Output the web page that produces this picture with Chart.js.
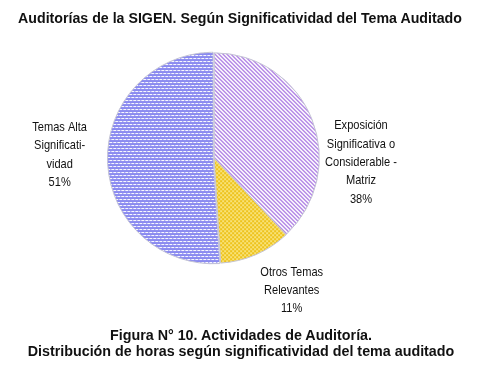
<!DOCTYPE html>
<html>
<head>
<meta charset="utf-8">
<script src="https://cdn.jsdelivr.net/npm/chart.js@4/dist/chart.umd.min.js"></script>
<style>
  html,body{margin:0;padding:0;background:#fff;}
  #wrap{width:484px;height:382px;position:relative;overflow:hidden;}
  #c{position:absolute;left:0;top:0;}
  .t{position:absolute;left:0;width:484px;text-align:center;font-family:"Liberation Sans",Arial,sans-serif;font-weight:bold;color:#111;white-space:nowrap;}
  #title{top:9px;font-size:14.2px;line-height:18px;left:-2px;}
  #caption{top:327px;font-size:14.3px;line-height:16px;left:-1px;}
</style>
</head>
<body>
<div id="wrap">
  <canvas id="c" width="484" height="382"></canvas>
  <div id="title" class="t"></div>
  <div id="caption" class="t"></div>
</div>
<script>
// ---- data ----
const categories = [
  ["Exposición", "Significativa o", "Considerable -", "Matriz"],
  ["Otros Temas", "Relevantes"],
  ["Temas Alta", "Significati-", "vidad"]
];
const values = [38, 11, 51];
const percentLabels = ["38%", "11%", "51%"];
const titleText = "Auditorías de la SIGEN. Según Significatividad del Tema Auditado";
const captionLines = ["Figura N° 10. Actividades de Auditoría.", "Distribución de horas según significatividad del tema auditado"];

document.getElementById('title').textContent = titleText;
const cap = document.getElementById('caption');
captionLines.forEach((l, i) => { if (i) cap.appendChild(document.createElement('br')); cap.appendChild(document.createTextNode(l)); });

// ---- patterns ----
function makePattern(w, h, base, fg, fn) {
  const c = document.createElement('canvas');
  c.width = w; c.height = h;
  const x = c.getContext('2d');
  x.fillStyle = base; x.fillRect(0, 0, w, h);
  x.fillStyle = fg;
  for (let j = 0; j < h; j++) for (let i = 0; i < w; i++) if (fn(i, j)) x.fillRect(i, j, 1, 1);
  return x.createPattern(c, 'repeat');
}
const blue = makePattern(4, 6, '#8a8af0', '#ffffff', (i, j) => (j === 1 && i < 3) || (j === 4 && i !== 1));
const purple = makePattern(4, 4, '#b488e6', '#ffffff', (i, j) => ((i - j + 8) % 4) >= 2);
const yellow = makePattern(4, 4, '#eec21c', '#f8e278', (i, j) => ((i >> 1) + (j >> 1)) % 2 === 1);

const labelPos = [[1.40, 0.04], [0.74, 1.26], [-1.47, -0.03]];

const labelPlugin = {
  id: 'sliceLabels',
  afterDatasetsDraw(chart) {
    const ctx = chart.ctx;
    const meta = chart.getDatasetMeta(0);
    const cx = (chart.chartArea.left + chart.chartArea.right) / 2;
    const cy = (chart.chartArea.top + chart.chartArea.bottom) / 2;
    const r = meta.controller.outerRadius;
    ctx.save();
    ctx.font = '13.5px "Liberation Sans", Arial, sans-serif';
    ctx.fillStyle = '#111';
    ctx.textAlign = 'center';
    ctx.textBaseline = 'middle';
    const lh = 18.4;
    meta.data.forEach((arc, i) => {
      const lines = categories[i].concat([percentLabels[i]]);
      const bx = cx + labelPos[i][0] * r;
      const by = cy + labelPos[i][1] * r;
      const top = by - (lines.length - 1) * lh / 2;
      lines.forEach((t, k) => {
        ctx.save();
        ctx.translate(bx, top + k * lh);
        ctx.scale(0.82, 1);
        ctx.fillText(t, 0, 0);
        ctx.restore();
      });
    });
    ctx.restore();
  }
};

new Chart(document.getElementById('c'), {
  type: 'pie',
  data: {
    labels: categories.map(c => c.join(' ')),
    datasets: [{
      data: values,
      backgroundColor: [purple, yellow, blue],
      borderColor: '#c4c4d4',
      borderWidth: 1,
      offset: [1, 1, 3],
      radius: 105
    }]
  },
  options: {
    responsive: false,
    animation: false,
    layout: { padding: { left: 0, right: 56, top: 40, bottom: 106 } },
    plugins: {
      legend: { display: false },
      tooltip: { enabled: false },
      title: { display: false },
      subtitle: { display: false }
    }
  },
  plugins: [labelPlugin]
});
</script>
</body>
</html>
